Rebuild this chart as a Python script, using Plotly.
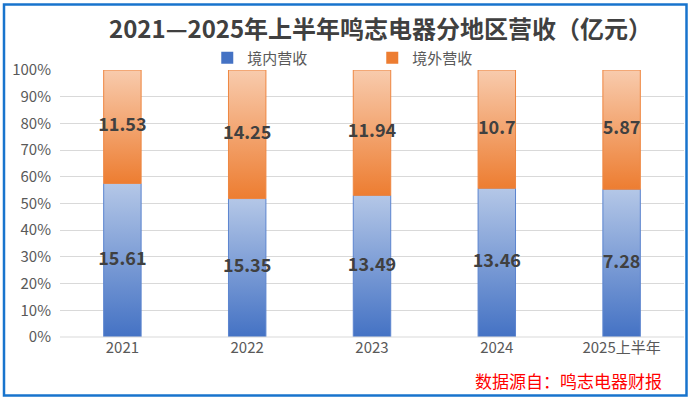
import plotly.graph_objects as go

categories = ["2021", "2022", "2023", "2024", "2025上半年"]
domestic = [15.61, 15.35, 13.49, 13.46, 7.28]
overseas = [11.53, 14.25, 11.94, 10.7, 5.87]
series_names = ["境内营收", "境外营收"]
y_ticks = [0, 0.1, 0.2, 0.3, 0.4, 0.5, 0.6, 0.7, 0.8, 0.9, 1.0]

FONT = "Noto Sans CJK SC"
blue_scale = [[0, "#4472C4"], [1, "#B4C7E7"]]
orange_scale = [[0, "#ED7D31"], [1, "#F8CBAD"]]
blue_line = "#5B84CF"
orange_line = "#EE8640"
half_w = 0.15

fig = go.Figure()

for i, cat in enumerate(categories):
    total = domestic[i] + overseas[i]
    d_share = domestic[i] / total
    segs = [(0.0, d_share, blue_scale, blue_line, domestic[i]),
            (d_share, 1.0, orange_scale, orange_line, overseas[i])]
    for (y0, y1, scale, lc, val) in segs:
        xs = [i - half_w, i + half_w, i + half_w, i - half_w, i - half_w]
        ys = [y0, y0, y1, y1, y0]
        fig.add_trace(go.Scatter(
            x=xs, y=ys, mode="lines", fill="toself",
            line=dict(color=lc, width=1),
            fillgradient=dict(type="vertical", colorscale=scale, start=y0, stop=y1),
            showlegend=False, hoverinfo="skip"))
        fig.add_trace(go.Scatter(
            x=[i], y=[(y0 + y1) / 2], mode="text", text=[f"{val:g}"],
            textfont=dict(family=FONT, size=18, color="#404040", weight="bold"),
            showlegend=False, hoverinfo="skip"))

# legend entries
for name, col in zip(series_names, ["#4472C4", "#ED7D31"]):
    fig.add_trace(go.Bar(x=[None], y=[None], name=name,
                         marker=dict(color=col, line=dict(color=col, width=0))))

fig.update_layout(
    width=692, height=399,
    margin=dict(l=60, r=8, t=70, b=62),
    paper_bgcolor="white", plot_bgcolor="white",
    title=dict(text="2021—2025年上半年鸣志电器分地区营收（亿元）",
               x=0.55, xanchor="center", y=0.925, yanchor="middle",
               font=dict(family=FONT, size=24, color="#404040", weight="bold")),
    legend=dict(orientation="h", x=0.236, xanchor="left", y=1.045, yanchor="middle",
                font=dict(family=FONT, size=15, color="#595959"),
                entrywidth=120, itemwidth=30, bgcolor="rgba(0,0,0,0)",
                traceorder="normal"),
    showlegend=True,
    xaxis=dict(range=[-0.5, len(categories) - 0.5], tickmode="array",
               tickvals=list(range(len(categories))), ticktext=categories,
               showgrid=False, zeroline=False, showline=False, ticks="",
               tickfont=dict(family=FONT, size=15, color="#595959")),
    yaxis=dict(range=[0, 1], tickvals=y_ticks, tickformat=".0%",
               showgrid=True, gridcolor="#D9D9D9", gridwidth=1,
               zeroline=False, showline=False, ticks="", ticklabelstandoff=8,
               tickfont=dict(family=FONT, size=15, color="#595959")),
)

# x-axis baseline
fig.add_shape(type="line", xref="paper", yref="paper", x0=0, x1=1, y0=0, y1=0,
              line=dict(color="#D9D9D9", width=1))

# outer frame
fig.add_shape(type="rect", xref="paper", yref="paper",
              x0=(4 - 60) / 624, x1=(686.5 - 60) / 624,
              y0=(337 - 395.5) / 267, y1=(337 - 4.5) / 267,
              line=dict(color="#1874CD", width=2.5), fillcolor="rgba(0,0,0,0)", layer="above")

fig.add_annotation(text="数据源自：鸣志电器财报", xref="paper", yref="paper",
                   x=(664 - 60) / 624, xanchor="right", y=(337 - 380) / 267, yanchor="middle",
                   showarrow=False, font=dict(family=FONT, size=17, color="#FF0000"))

fig.write_html("out.html", config={"displayModeBar": False},
               post_script="document.body.style.margin='0px';")
